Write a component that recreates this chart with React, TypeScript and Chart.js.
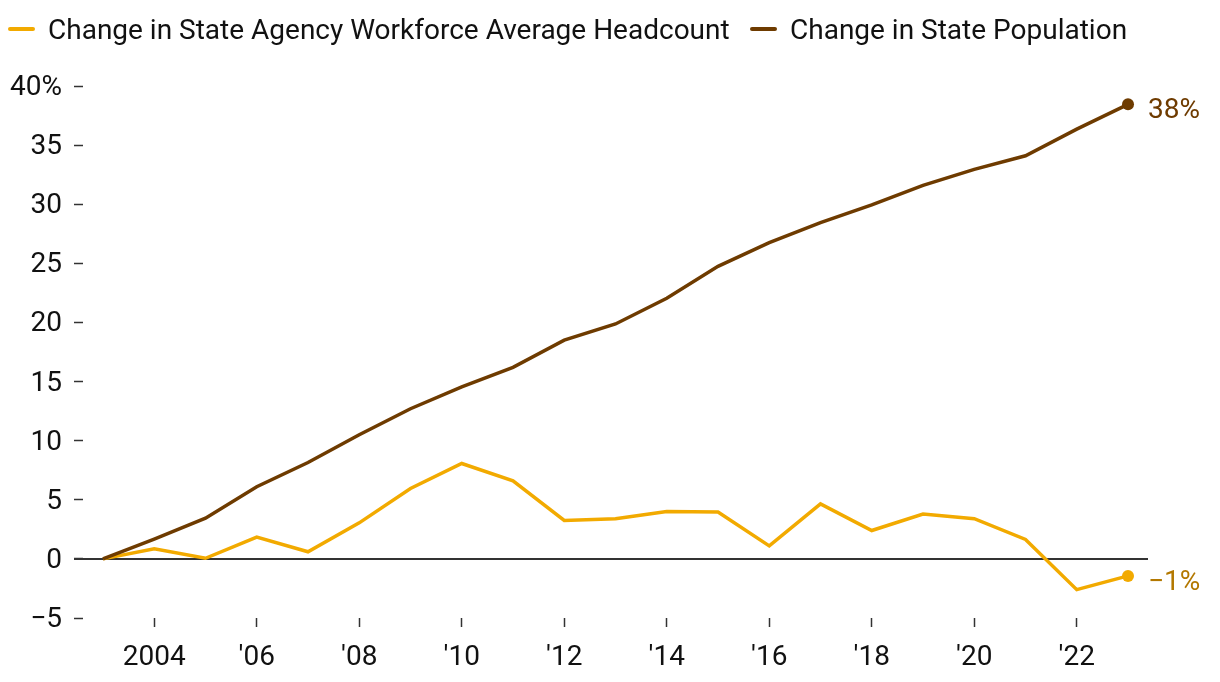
import React, { useEffect, useRef } from "react";
import { Chart, registerables } from "chart.js";

Chart.register(...registerables);

const years = [2003, 2004, 2005, 2006, 2007, 2008, 2009, 2010, 2011, 2012, 2013, 2014, 2015, 2016, 2017, 2018, 2019, 2020, 2021, 2022, 2023];
const workforceChange = [0, 0.85, 0.05, 1.85, 0.6, 3.05, 5.95, 8.07, 6.6, 3.25, 3.4, 4.0, 3.97, 1.1, 4.65, 2.4, 3.8, 3.4, 1.65, -2.6, -1.44];
const populationChange = [0, 1.67, 3.44, 6.1, 8.15, 10.5, 12.7, 14.55, 16.2, 18.5, 19.87, 22.05, 24.75, 26.75, 28.45, 29.95, 31.6, 32.95, 34.1, 36.35, 38.45];
const xTickValues = [2004, 2006, 2008, 2010, 2012, 2014, 2016, 2018, 2020, 2022];
const yTickValues = [-5, 0, 5, 10, 15, 20, 25, 30, 35, 40];
const seriesNames = ["Change in State Agency Workforce Average Headcount", "Change in State Population"];

const GOLD = "#F2AA00";
const BROWN = "#6E3B00";
const GOLD_TEXT = "#B37800";
const FONT = "Roboto, 'Noto Sans', sans-serif";
const FS = 28;

function fmtY(v: number) {
  if (v === 40) return "40%";
  if (v < 0) return "\u2212" + Math.abs(v);
  return String(v);
}
function fmtX(v: number) {
  if (v === 2004) return "2004";
  return "'" + String(v).slice(2);
}
function fmtEnd(v: number) {
  const r = Math.round(v);
  return (r < 0 ? "\u2212" + Math.abs(r) : String(r)) + "%";
}

export default function App() {
  const ref = useRef<HTMLCanvasElement | null>(null);
  useEffect(() => {
    document.body.style.margin = "0";
    const canvas = ref.current;
    if (!canvas) return;
    const last = years.length - 1;

    const zeroLine = {
      id: "zeroLine",
      beforeDatasetsDraw(chart: any) {
        const { ctx, chartArea, scales } = chart;
        const y = scales.y.getPixelForValue(0);
        ctx.save();
        ctx.strokeStyle = "#333333";
        ctx.lineWidth = 2;
        ctx.beginPath();
        ctx.moveTo(chartArea.left - 9, y);
        ctx.lineTo(chartArea.right, y);
        ctx.stroke();
        ctx.restore();
      },
    };
    const endLabels = {
      id: "endLabels",
      afterDatasetsDraw(chart: any) {
        const { ctx } = chart;
        ctx.save();
        ctx.font = `${FS}px ${FONT}`;
        ctx.textAlign = "left";
        ctx.textBaseline = "middle";
        chart.data.datasets.forEach((ds: any, i: number) => {
          const meta = chart.getDatasetMeta(i);
          const pt = meta.data[last];
          const val = ds.data[last].y;
          ctx.fillStyle = ds.endColor;
          ctx.fillText(fmtEnd(val), pt.x + 20, pt.y + 7);
        });
        ctx.restore();
      },
    };

    const chart = new Chart(canvas, {
      type: "line",
      data: {
        datasets: [
          {
            label: seriesNames[1],
            data: years.map((x, i) => ({ x, y: populationChange[i] })),
            borderColor: BROWN,
            backgroundColor: BROWN,
            borderWidth: 3.5,
            pointRadius: (c: any) => (c.dataIndex === last ? 6 : 0),
            pointBackgroundColor: BROWN,
            pointBorderWidth: 0,
            tension: 0,
            order: 0,
            endColor: BROWN,
          } as any,
          {
            label: seriesNames[0],
            data: years.map((x, i) => ({ x, y: workforceChange[i] })),
            borderColor: GOLD,
            backgroundColor: GOLD,
            borderWidth: 3.5,
            pointRadius: (c: any) => (c.dataIndex === last ? 6 : 0),
            pointBackgroundColor: GOLD,
            pointBorderWidth: 0,
            tension: 0,
            order: 1,
            endColor: GOLD_TEXT,
          } as any,
        ],
      },
      options: {
        animation: false,
        responsive: false,
        maintainAspectRatio: false,
        layout: { padding: { top: 86, right: 72, left: 0, bottom: 0 } },
        plugins: { legend: { display: false }, tooltip: { enabled: false } },
        scales: {
          x: {
            type: "linear",
            min: 2002.61,
            max: 2023.39,
            afterBuildTicks: (s: any) => {
              s.ticks = xTickValues.map((v) => ({ value: v }));
            },
            afterFit: (s: any) => {
              s.height = 64;
            },
            grid: { drawOnChartArea: false, drawTicks: true, tickLength: 9, tickColor: "#333333", tickWidth: 1.5 },
            border: { display: false },
            ticks: {
              callback: (v: any) => fmtX(Number(v)),
              color: "#111111",
              font: { family: FONT, size: FS },
              padding: 14,
              maxRotation: 0,
              autoSkip: false,
            },
          },
          y: {
            type: "linear",
            min: -5,
            max: 40,
            afterBuildTicks: (s: any) => {
              s.ticks = yTickValues.map((v) => ({ value: v }));
            },
            afterFit: (s: any) => {
              s.width = 83;
            },
            grid: { drawOnChartArea: false, drawTicks: true, tickLength: 9, tickColor: "#333333", tickWidth: 1.5 },
            border: { display: false },
            ticks: {
              callback: (v: any) => fmtY(Number(v)),
              color: "#111111",
              font: { family: FONT, size: FS },
              padding: 12,
              labelOffset: 2,
            },
          },
        },
      },
      plugins: [zeroLine, endLabels],
    } as any);
    return () => chart.destroy();
  }, []);

  const legendItems = [
    { name: seriesNames[0], color: GOLD, left: 8 },
    { name: seriesNames[1], color: BROWN, left: 750 },
  ];

  return (
    <div style={{ position: "absolute", left: 0, top: 0, width: 1220, height: 682, background: "#fff" }}>
      <canvas ref={ref} width={1220} height={682} style={{ position: "absolute", left: 0, top: 0, width: 1220, height: 682 }} />
      {legendItems.map((it) => (
        <div
          key={it.name}
          style={{
            position: "absolute",
            left: it.left,
            top: 11,
            height: 36,
            display: "flex",
            alignItems: "center",
            fontFamily: FONT,
            fontSize: FS,
            color: "#111111",
            whiteSpace: "nowrap",
          }}
        >
          <span style={{ display: "inline-block", width: 27, height: 4, borderRadius: 2, background: it.color, marginRight: 13 }} />
          <span>{it.name}</span>
        </div>
      ))}
    </div>
  );
}
